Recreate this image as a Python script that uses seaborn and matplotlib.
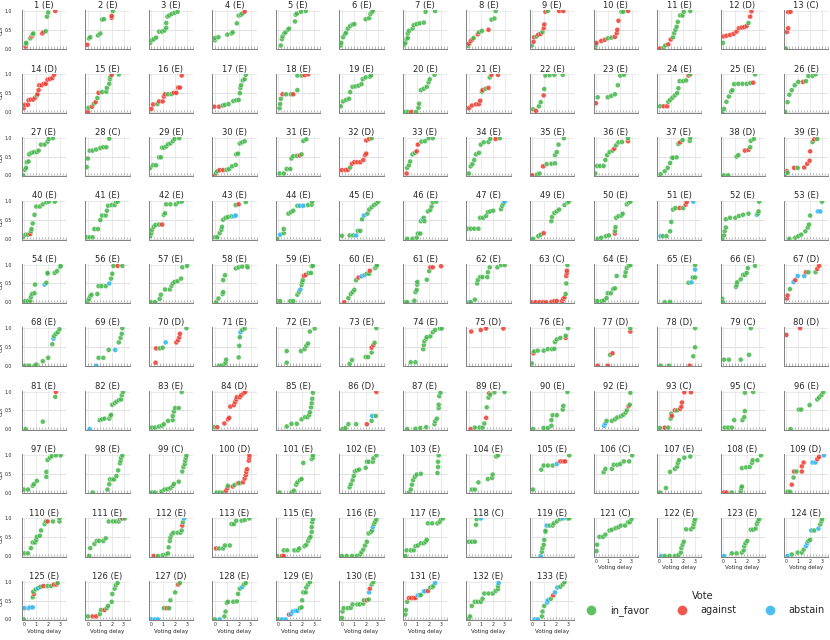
import pandas as pd
import matplotlib.pyplot as plt
import seaborn as sns
from matplotlib.ticker import MultipleLocator

# proposal panels, in grid order
titles = [
    "1 (E)", "2 (E)", "3 (E)", "4 (E)", "5 (E)", "6 (E)", "7 (E)", "8 (E)", "9 (E)", "10 (E)", "11 (E)", "12 (D)", "13 (C)",
    "14 (D)", "15 (E)", "16 (E)", "17 (E)", "18 (E)", "19 (E)", "20 (E)", "21 (E)", "22 (E)", "23 (E)", "24 (E)", "25 (E)", "26 (E)",
    "27 (E)", "28 (C)", "29 (E)", "30 (E)", "31 (E)", "32 (D)", "33 (E)", "34 (E)", "35 (E)", "36 (E)", "37 (E)", "38 (D)", "39 (E)",
    "40 (E)", "41 (E)", "42 (E)", "43 (E)", "44 (E)", "45 (E)", "46 (E)", "47 (E)", "49 (E)", "50 (E)", "51 (E)", "52 (E)", "53 (E)",
    "54 (E)", "56 (E)", "57 (E)", "58 (E)", "59 (E)", "60 (E)", "61 (E)", "62 (E)", "63 (C)", "64 (E)", "65 (E)", "66 (E)", "67 (D)",
    "68 (E)", "69 (E)", "70 (D)", "71 (E)", "72 (E)", "73 (E)", "74 (E)", "75 (D)", "76 (E)", "77 (D)", "78 (D)", "79 (C)", "80 (D)",
    "81 (E)", "82 (E)", "83 (E)", "84 (D)", "85 (E)", "86 (D)", "87 (E)", "89 (E)", "90 (E)", "92 (E)", "93 (C)", "95 (C)", "96 (E)",
    "97 (E)", "98 (E)", "99 (C)", "100 (D)", "101 (E)", "102 (E)", "103 (E)", "104 (E)", "105 (E)", "106 (C)", "107 (E)", "108 (E)", "109 (D)",
    "110 (E)", "111 (E)", "112 (E)", "113 (E)", "115 (E)", "116 (E)", "117 (E)", "118 (C)", "119 (E)", "121 (C)", "122 (E)", "123 (E)", "124 (E)",
    "125 (E)", "126 (E)", "127 (D)", "128 (E)", "129 (E)", "130 (E)", "131 (E)", "132 (E)", "133 (E)",
]

# per panel: "delay,cdf,vote" triples (g = in_favor, r = against, b = abstain)
points = [
    # row 1
    "0.1,.05,r 0.15,.12,g 0.15,.15,g 0.5,.27,g 0.6,.32,r 0.7,.35,r 0.7,.38,g 0.75,.4,g 1.5,.4,r 1.6,.43,r 1.8,.46,g 1.9,.85,g 2.0,.96,g 2.6,1,r",
    "-0.05,.1,r 0.1,.27,g 0.2,.3,g 0.85,.35,g 1.05,.4,g 1.2,.77,g 1.35,.78,g 2.0,.82,r 2.0,.87,r 2.1,1,g",
    "-0.1,.15,g 0.05,.22,g 0.2,.25,g 0.4,.29,g 0.65,.45,g 0.9,.45,g 1.1,.48,g 1.25,.55,g 1.25,.68,g 1.35,.85,g 1.5,.88,g 1.7,.92,g 1.95,.95,g 2.2,.98,g",
    "0,.22,g 0,.28,g 0.3,.3,g 1.05,.37,g 1.4,.4,g 1.5,.43,g 1.85,.67,g 2.0,.88,g 2.2,.9,g 2.3,.93,g 2.5,.98,r",
    "0.2,.08,g 0.3,.25,g 0.35,.32,g 0.5,.4,g 0.6,.43,g 0.8,.5,g 0.9,.53,g 1.4,.72,g 1.45,.9,g 1.55,.93,g 1.9,.98,g 2.3,1,g",
    "-0.1,.08,g -0.05,.15,g 0.1,.3,g 0.25,.38,g 0.35,.42,g 0.5,.53,g 0.7,.6,g 0.9,.64,g 1.05,.65,g 2.0,.78,g 2.3,.81,g 2.4,.92,g 2.5,.96,g 2.6,1,g",
    "-0.1,.1,g 0,.15,g 0.1,.25,g 0.2,.28,g 0.2,.4,g 0.3,.47,g 0.6,.53,g 0.7,.62,g 0.95,.65,g 1.2,.67,g 1.55,.69,g 1.7,.98,g 2.5,1,g",
    "-0.05,.07,g 0,.13,r 0.15,.2,r 0.3,.24,r 0.4,.28,g 0.75,.38,r 0.85,.43,g 1.1,.47,g 1.65,.5,r 1.9,.77,g 2.15,.8,g 2.25,1,g",
    "-0.05,.08,g 0.1,.18,r 0.15,.3,r 0.35,.32,g 0.5,.37,r 0.7,.39,r 0.85,.44,g 0.95,.54,r 1.0,.64,r 1.1,.98,r 1.3,1,g 2.25,1,r 2.6,1,r",
    "-0.05,.03,g 0,.1,g 0.05,.15,r 0.45,.2,r 0.75,.23,r 1.0,.27,g 1.3,.29,g 1.6,.31,r 1.75,.41,r 1.8,.5,r 1.9,.74,r 2.15,.98,g 2.3,.98,g 2.7,1,r",
    "0.05,0,r 0.35,.02,g 0.5,.08,g 0.75,.11,r 0.95,.24,r 1.15,.3,g 1.25,.41,g 1.35,.5,g 1.45,.58,g 1.55,.71,g 1.75,.88,g 1.95,.88,g 2.05,.98,g 2.6,1,g",
    "0,.15,g 0.05,.32,r 0.3,.34,r 0.6,.36,r 0.9,.39,r 1.15,.45,r 1.35,.54,r 1.6,.56,r 1.8,.57,r 2.0,.6,r 2.15,.68,g 2.3,.85,r 2.4,.99,r",
    "-0.05,0,g 0.05,.44,r 0.15,.54,r 0.15,.97,r 0.35,.98,r",
    # row 2
    "-0.05,.1,r 0.05,.19,r 0.3,.19,r 0.35,.31,r 0.55,.33,r 0.75,.33,r 0.9,.38,r 1.05,.44,g 1.1,.47,r 1.2,.58,r 1.25,.71,r 1.45,.71,r 1.65,.75,r 1.8,.75,r 1.95,.86,r 2.15,.88,r 2.35,.9,r 2.5,.99,r",
    "0,0,r 0.05,.11,g 0.35,.14,r 0.5,.22,g 0.65,.26,r 0.8,.37,g 0.9,.51,r 1.2,.53,g 1.55,.54,g 1.6,.64,g 1.8,.75,g 1.85,.87,g 1.9,.94,g 2.0,.99,r 2.6,1,g",
    "0,.08,r 0.15,.2,r 0.5,.21,g 0.65,.28,r 0.95,.28,r 1.05,.41,r 1.15,.47,r 1.4,.47,g 1.7,.48,g 1.9,.51,r 2.1,.51,r 2.25,.65,r 2.4,.65,r 2.55,.97,r",
    "-0.05,.14,r 0.35,.14,r 0.65,.17,g 0.85,.19,g 1.15,.21,g 1.55,.29,g 1.8,.31,g 2.0,.32,g 2.1,.5,g 2.15,.64,g 2.2,.71,g 2.35,.84,g 2.5,.87,g 2.6,.99,g",
    "0.1,.1,g 0.15,.21,g 0.2,.35,g 0.35,.47,r 0.65,.47,g 1.05,.47,g 1.25,.47,r 1.6,.58,g 1.6,.97,g 1.95,.97,g 2.2,.98,r 2.5,1,r",
    "-0.1,.15,g 0.1,.28,g 0.35,.32,g 0.6,.35,g 0.7,.53,g 0.9,.67,g 1.15,.68,g 1.4,.7,g 1.65,.74,g 1.75,.87,g 2.0,.92,g 2.35,.94,g 2.45,.97,g",
    "-0.1,0,g 0.2,0,g 0.5,0,r 0.9,0,g 1.1,.11,g 1.15,.22,g 1.3,.58,g 1.55,.62,g 1.8,.67,g 1.95,.79,g 2.05,.87,g 2.45,.99,g",
    "0,.1,r 0.25,.17,r 0.6,.2,r 0.85,.21,r 0.95,.3,r 1.1,.54,g 1.15,.58,r 1.4,.62,g 1.65,.64,r 1.75,.92,g 1.9,.99,r 2.45,.99,r",
    "0.05,.07,g 0.3,.03,r 0.55,.15,g 0.7,.26,g 0.95,.44,r 1.0,.61,g 1.1,.97,g 1.45,.98,g 1.85,.99,g 2.55,.99,g",
    "0,.23,r 0.15,.39,g 1.0,.39,g 1.3,.43,g 1.6,.47,g 1.85,.71,g 2.05,.97,g 2.35,.99,g",
    "0.05,.15,g 0.35,.15,r 0.65,.15,r 0.75,.27,g 0.9,.32,g 1.1,.38,g 1.3,.44,g 1.5,.5,g 1.6,.63,g 1.7,.82,g 2.0,.82,g 2.25,.84,g 2.45,.97,r 2.6,1,g",
    "-0.05,0,g 0.1,.08,g 0.3,.27,g 0.5,.41,g 0.7,.54,g 0.8,.58,g 0.95,.74,g 1.3,.75,g 1.65,.75,g 2.0,.75,g 2.3,.77,g 2.55,.78,r 2.7,1,g",
    "-0.1,0,g 0.1,.26,g 0.25,.46,g 0.45,.58,g 0.7,.71,g 1.0,.8,g 1.4,.8,r 1.65,.82,g 1.85,.96,g 2.2,.96,g 2.45,1,g",
    # row 3
    "-0.1,0,g 0.05,.15,g 0.15,.2,g 0.2,.35,g 0.35,.37,g 0.4,.56,g 0.6,.6,g 0.8,.62,g 1.05,.62,g 1.2,.66,g 1.4,.82,g 1.7,.82,g 1.95,.9,g 2.05,.97,g 2.4,.99,g",
    "-0.1,.22,g 0,.45,g 0.15,.66,g 0.4,.66,g 0.7,.69,g 1.05,.73,g 1.3,.75,g 1.55,.75,g 1.8,.98,g",
    "-0.1,.2,g 0.15,.27,g 0.4,.27,g 0.65,.48,g 0.8,.48,g 0.9,.74,g 1.05,.74,g 1.25,.77,g 1.4,.83,g 1.6,.85,g 1.8,.91,g 1.95,.97,g 2.35,.99,g",
    "0,0,r 0.1,.07,g 0.2,.11,g 0.4,.14,r 0.7,.14,r 1.0,.15,g 1.2,.17,g 1.45,.24,g 1.75,.28,g 1.8,.56,g 1.95,.58,g 2.1,.85,g 2.3,.88,g 2.5,.91,g",
    "0.1,.05,g 0.45,.05,g 0.7,.17,g 1.0,.17,g 1.1,.45,g 1.25,.51,g 1.55,.52,g 1.8,.53,r 1.95,.56,g 2.1,.92,g 2.35,.96,g",
    "0,.14,r 0.3,.14,r 0.5,.15,r 0.7,.21,g 0.85,.31,r 1.05,.35,r 1.3,.35,r 1.55,.35,r 1.8,.41,r 1.95,.54,r 2.05,.58,r 2.05,.93,r 2.3,.97,r 2.5,.99,g",
    "0.1,.05,r 0.15,.2,g 0.3,.27,g 0.4,.37,g 0.6,.56,g 0.8,.6,g 0.95,.64,r 1.05,.82,r 1.35,.9,g 1.65,.91,g 1.95,.99,g 2.3,.99,g",
    "0,.05,g 0.15,.24,g 0.3,.3,g 0.45,.41,g 0.6,.56,g 0.85,.6,g 1.0,.82,g 1.25,.88,g 1.65,.89,g 1.8,.97,g 2.25,.97,r 2.6,.99,g",
    "0,0,r 0.4,.02,g 0.6,.05,g 0.9,.24,r 1.2,.3,g 1.6,.31,g 1.9,.32,g 1.9,.54,g 2.05,.62,g 2.2,.82,g 2.65,.99,g",
    "-0.05,.05,g 0.1,.25,g 0.35,.25,g 0.65,.25,g 0.8,.41,g 0.95,.54,g 1.15,.62,g 1.4,.66,g 1.55,.71,r 1.7,.8,g 1.9,.88,g 2.2,.89,g 2.7,.91,r 2.7,.99,g",
    "0.1,.03,g 0.45,.11,g 0.7,.2,g 0.9,.33,g 1.05,.47,g 1.15,.47,g 1.45,.48,g 1.6,.84,g 1.75,.88,r 1.95,.94,g 2.55,.92,g 2.6,1,g",
    "0.1,0,g 0.45,0,g 1.15,.5,g 1.3,.54,g 1.85,.66,r 2.15,.68,r 2.3,.75,g 2.35,.92,g 2.6,.97,g",
    "-0.1,0,g 0.05,.11,r 0.1,.07,g 0.65,.2,r 0.95,.2,g 1.5,.21,r 1.75,.31,r 1.95,.39,r 2.0,.64,r 2.2,.89,g 2.35,.96,r 2.6,.97,g",
    # row 4
    "-0.1,.05,g 0.1,.11,g 0.3,.11,g 0.5,.13,r 0.55,.2,g 0.6,.26,g 0.7,.41,g 0.85,.64,g 1.0,.86,g 1.3,.86,g 1.55,.92,g 1.85,.97,g 2.05,.99,g 2.55,.99,g",
    "-0.1,.04,g 0.15,.04,g 0.4,.04,g 0.55,.26,g 0.85,.26,g 1.05,.5,g 1.2,.62,g 1.5,.62,g 1.6,.75,g 1.7,.88,g 2.0,.9,g 2.25,.9,g 2.35,.99,g 2.5,.99,g",
    "-0.1,.07,g 0,.15,g 0.05,.24,g 0.2,.32,g 0.35,.37,g 0.65,.38,g 0.9,.38,r 1.05,.64,g 1.15,.68,g 1.25,.92,g 1.6,.92,g 2.05,.92,g 2.3,.98,g 2.55,.99,g",
    "0,.04,g 0.2,.04,g 0.4,.15,g 0.55,.24,g 0.6,.32,g 0.7,.51,g 0.9,.56,g 1.1,.58,g 1.4,.6,g 1.6,.6,b 1.75,.62,b 1.75,.9,g 2.0,.92,r 2.6,.98,g",
    "-0.1,0,g 0.15,.11,b 0.45,.15,g 0.45,.26,g 0.85,.67,g 1.05,.71,g 1.25,.75,g 1.6,.88,g 1.8,.88,b 2.1,.88,b 2.5,.9,g 2.8,.91,g 2.85,.99,g",
    "0,.08,g 0.65,.09,g 0.95,.09,g 1.2,.09,b 1.35,.21,g 1.55,.21,g 1.7,.52,g 1.85,.62,b 2.15,.67,g 2.3,.78,g 2.5,.84,g 2.7,.9,g 2.9,.94,g 3.05,.99,g",
    "0.15,0,g 0.6,0,g 0.95,.03,g 1.05,.14,g 1.25,.14,g 1.3,.47,g 1.45,.52,b 1.55,.56,g 1.6,.47,g 1.9,.73,g 2.1,.77,g 2.2,.86,g 2.3,.97,g 2.6,.99,g",
    "-0.1,.27,g 0.15,.27,g 0.45,.27,g 0.8,.27,g 0.95,.56,g 1.2,.56,g 1.45,.61,g 1.6,.71,g 1.8,.73,g 2.05,.75,g 2.7,.79,g 2.8,.88,g 2.9,.94,g 3.0,.99,b",
    "0.05,0,g 0.5,.07,g 0.7,.11,g 0.95,.15,r 1.6,.47,g 1.65,.58,g 1.85,.69,g 2.05,.73,g 2.25,.78,g 2.7,.9,g 2.95,.97,g 3.05,.99,g",
    "0.15,0,g 0.45,.03,g 0.85,.07,g 1.1,.09,g 1.6,.14,r 1.6,.21,g 1.65,.31,g 1.7,.56,g 1.9,.6,g 2.15,.62,g 2.25,.67,g 2.6,.92,g 2.75,.97,g 2.9,.99,g",
    "0.1,.07,b 0.3,.07,g 0.6,.07,g 0.9,.2,g 1.0,.45,g 1.15,.78,g 1.35,.82,g 1.7,.82,r 2.0,.82,g 2.2,.91,r 2.3,.98,r 2.85,.99,b",
    "-0.05,0,g 0.1,.09,g 0.15,.2,g 0.25,.3,g 0.25,.52,g 0.6,.56,g 1.05,.56,g 1.35,.61,g 1.7,.64,g 2.15,.67,g 2.85,.64,b 2.95,.67,g 3.0,.73,g 3.05,.99,g",
    "0.25,0,g 0.75,.03,g 1.0,.07,g 1.25,.11,g 1.6,.2,g 1.8,.3,g 1.9,.38,g 2.0,.62,g 2.65,.73,b 2.85,.73,b 3.0,.99,g",
    # row 5
    "0.05,.03,g 0.3,.03,g 0.5,.04,g 0.55,.14,g 0.65,.22,g 0.85,.24,g 0.9,.47,g 1.7,.47,b 1.85,.52,g 1.95,.76,g 1.95,.78,g 2.55,.78,g 2.75,.83,g 3.0,.94,g 3.05,.97,g",
    "0,.03,g 0.1,.09,g 0.2,.16,g 0.3,.2,g 0.8,.22,g 0.9,.43,g 1.15,.43,g 1.5,.43,g 1.8,.5,b 1.95,.63,g 2.05,.76,g 2.15,.97,g 2.5,.97,r 2.9,.97,g",
    "0,0,g 0.3,0,g 0.7,.09,g 0.8,.2,g 1.15,.34,g 1.55,.34,g 1.7,.44,g 1.8,.5,g 1.95,.54,g 2.2,.56,g 2.5,.63,g 2.6,.93,g 3.0,.97,g",
    "0.1,0,g 0.3,.1,g 0.65,.22,g 0.7,.27,g 0.7,.59,g 0.85,.72,g 1.75,.9,g 2.0,.93,g 2.3,.95,g 2.7,.97,g 2.75,.93,g",
    "-0.1,.03,g 0.15,.03,g 1.0,.03,g 1.25,.03,g 1.6,.2,g 1.75,.28,g 1.85,.34,b 1.95,.46,g 2.0,.53,g 2.05,.59,g 2.15,.7,r 2.3,.73,r 2.55,.78,g 2.75,.78,g 2.8,.96,g 2.9,.97,g",
    "0.2,0,r 0.55,.11,g 0.75,.22,g 0.9,.27,g 1.05,.33,g 1.2,.59,g 1.4,.66,r 1.65,.69,b 1.9,.72,b 2.1,.76,g 2.3,.76,g 2.35,.84,r 2.8,.91,g 2.9,.95,g 2.95,.99,g",
    "0,0,g 0.15,0,g 0.75,.04,g 0.85,.27,g 0.95,.33,g 1.0,.47,g 1.0,.54,g 1.8,.6,g 2.0,.83,g 2.1,.93,r 2.3,.93,r 3.0,.96,r",
    "0,0,b 0.15,0,g 0.5,.07,g 0.7,.5,g 0.75,.59,g 0.95,.67,g 1.15,.67,g 1.55,.67,g 1.6,.8,g 1.75,.93,g 2.4,.93,g 2.7,.99,g 3.0,.99,g",
    "-0.1,0,r 0.25,0,r 0.6,0,r 0.9,0,r 1.15,0,r 1.6,.01,r 1.85,.03,r 2.05,.03,r 2.5,.03,r 2.6,.09,r 2.7,.13,r 2.8,.22,g 2.85,.5,g 2.85,.7,r 2.9,.78,r 2.9,.84,r 2.95,.99,g",
    "-0.05,.03,g 0.15,.03,g 0.5,.03,g 0.7,.05,g 0.9,.11,g 1.0,.24,g 1.25,.24,g 1.45,.35,g 1.6,.37,g 1.75,.7,g 2.45,.7,g 2.5,.8,g 2.6,.91,g 2.75,.97,g 2.9,.99,g",
    "0.45,0,g 0.9,.01,g 2.45,.52,g 2.7,.53,b 2.8,.66,g 3.0,.66,g 3.0,.87,b 3.0,.99,g",
    "-0.05,.09,g 0,0,g 1.1,.41,g 1.15,.46,g 1.2,.53,g 1.5,.61,g 1.7,.73,g 1.85,.73,g 2.0,.78,g 2.1,.91,g 2.7,.97,g",
    "0.05,.1,r 0.1,.18,r 0.3,.35,g 0.6,.54,b 0.75,.59,r 0.95,.7,b 1.5,.7,b 1.65,.8,r 1.85,.8,g 2.45,.8,g 2.6,.89,r 2.75,.97,r",
    # row 6
    "0.05,0,g 0.4,0,g 0.85,0,g 1.0,.03,g 1.55,.12,g 2.0,.21,g 2.35,.57,g 2.45,.72,b 2.5,.79,g 2.65,.85,g 2.8,.89,g 2.95,.97,g",
    "0.7,0,b 0.9,.21,g 1.3,.21,g 1.75,.42,g 2.3,.42,b 2.6,.62,g 2.75,.74,g 2.85,.85,g 2.9,1,g",
    "0.35,.08,r 0.4,.46,r 0.7,.46,g 0.95,.48,g 1.2,.62,b 2.1,.62,r 2.25,.68,r 2.35,.76,r 2.4,.85,r 2.95,1,g",
    "0.35,0,g 0.55,0,g 0.8,.03,g 0.9,.08,g 0.95,.16,g 2.0,.22,g 2.05,.53,g 2.1,.76,g 2.15,.89,b 2.3,.95,g 2.5,.99,g",
    "0.7,.08,g 0.7,.39,g 1.9,.39,g 2.2,.44,g 2.35,.53,g 2.5,.59,g 2.65,.91,g 3.05,.99,g",
    "0.65,.05,g 0.85,.15,g 2.0,.23,g 2.2,.23,g 2.5,.35,g 2.5,.48,r 2.65,.55,r 2.75,.61,g 2.9,1,g",
    "0.45,.09,g 0.85,.09,g 1.5,.44,g 1.55,.55,g 1.6,.65,g 1.75,.72,g 1.8,.76,g 2.1,.78,g 2.3,.89,g 2.5,.95,g 2.9,.99,g 3.05,.99,g",
    "0.2,.91,r 1.0,.95,r 1.45,.99,r 2.9,.99,r",
    "-0.05,.06,g 0.1,.33,r 0.15,.38,g 0.45,.4,g 0.95,.4,g 1.3,.44,g 1.65,.44,g 1.85,.45,g 1.9,.63,g 2.05,.7,g 2.35,.74,g 2.8,.74,r 2.8,.8,g 3.0,1,g",
    "0.15,0,r 1.0,0,r 1.2,.29,g 1.4,.33,r 2.9,.91,r 2.9,1,g",
    "0.1,0,g 0.8,0,g 2.55,0,r 2.85,.25,g 3.0,.49,g 3.0,1,g",
    "0.1,.16,g 0.5,.16,g 1.5,.16,g 2.2,.29,g 2.35,1,g",
    "0,.82,r 1.15,1,r",
    # row 7
    "0.1,0,g 1.55,.2,g 2.6,.86,g 2.65,.99,r",
    "0.15,0,b 1.0,.24,g 1.2,.26,g 1.4,.28,g 1.8,.28,g 1.9,.35,g 1.95,.38,g 2.05,.65,g 2.25,.69,g 2.4,.73,g 2.6,.77,g 2.8,.79,g 2.85,.9,g 2.95,.99,g",
    "0.05,.04,g 0.3,.04,g 0.65,.07,g 0.9,.09,g 1.05,.13,g 1.4,.22,g 1.8,.24,g 1.8,.35,g 1.9,.47,g 2.0,.56,g 2.3,.56,g 2.55,.99,g",
    "-0.05,.05,g 0.2,.05,r 0.8,.15,r 1.1,.26,r 1.2,.3,r 1.3,.6,r 1.6,.64,r 1.7,.72,r 1.8,.79,r 1.85,.85,r 2.1,.85,r 2.2,.9,r 2.4,.95,r 2.55,.99,r",
    "0.7,.07,g 1.1,.14,g 1.55,.14,g 1.95,.26,g 2.25,.32,g 2.45,.32,g 2.6,.38,g 2.65,.45,g 2.75,.58,g 2.8,.69,g 2.85,.81,g 2.9,.97,g",
    "0.05,0,g 0.3,.03,g 0.55,.13,g 1.2,.13,g 2.1,.13,r 2.5,.22,g 2.55,.35,b 2.85,.35,g 2.9,.99,r",
    "0.15,0,g 0.85,.01,g 1.25,.03,g 1.75,.05,g 2.45,.13,g 2.5,.21,g 2.65,.28,g 2.8,.56,g 2.8,.65,g 2.85,.88,g 2.95,.97,g",
    "0.15,0,r 0.5,.04,g 0.9,.04,g 1.15,.04,g 1.3,.15,g 1.45,.3,r 1.5,.58,g 1.65,.84,g 1.7,.95,r 1.8,.92,g 2.15,.98,g 3.0,.99,g",
    "0.05,0,g 0.95,.03,g 1.3,.03,g 1.6,.09,g 1.6,.24,g 1.7,.37,g 2.05,.37,g 2.55,.52,g 2.6,.62,g 2.95,.99,g",
    "0.7,.09,b 0.8,.15,b 0.9,.22,g 1.35,.22,g 1.6,.26,g 1.8,.31,g 2.1,.34,g 2.3,.38,g 2.5,.44,g 2.6,.5,g 2.75,.61,r 2.85,.65,g 2.9,.97,g",
    "0.05,.03,g 0.45,.04,r 0.75,.04,g 0.95,.28,g 1.0,.41,g 1.05,.35,r 1.3,.5,r 1.5,.5,g 1.75,.54,r 1.85,.6,r 1.9,.71,r 2.1,.98,r 2.65,.98,r",
    "0.15,.04,g 0.45,.04,g 0.75,.04,g 0.95,.24,g 1.65,.24,g 1.8,.32,g 1.85,.48,g 1.85,.97,g 2.55,.99,g",
    "0.35,0,g 1.05,.52,g 1.25,.52,g 1.95,.64,g 2.6,.79,g 2.75,.84,g 2.95,.91,g 3.1,.98,g",
    # row 8
    "-0.05,.08,g 0.3,.08,g 0.7,.18,g 0.8,.22,g 1.05,.31,g 1.85,.42,g 1.85,.55,g 1.95,.87,g 2.15,.93,g 2.3,.97,g 2.65,.99,g 3.05,.99,g",
    "0.4,0,g 1.65,.08,g 1.8,.22,g 1.85,.35,g 2.05,.35,g 2.2,.35,g 2.4,.44,g 2.55,.59,g 2.7,.78,g 2.75,.85,g 2.8,.93,g 2.9,.99,g",
    "0.05,0,g 0.3,0,g 0.85,.03,g 1.1,.08,g 1.35,.09,g 1.6,.12,g 1.8,.18,g 1.9,.23,g 2.3,.29,g 2.6,.56,g 2.7,.68,g 2.8,.76,g 2.85,.85,g 2.9,.93,g 2.95,.99,g",
    "0.15,0,g 0.4,0,g 0.7,0,g 0.95,.05,r 1.05,.12,r 1.1,.18,g 1.5,.16,r 1.65,.2,g 1.95,.25,r 2.05,.25,g 2.35,.27,r 2.5,.37,r 2.6,.46,r 2.65,.55,r 2.7,.62,r 2.85,.85,r 2.9,.93,r 2.9,.99,r",
    "0.1,0,g 1.1,0,g 1.3,.05,g 1.5,.21,g 1.6,.27,g 1.8,.33,g 1.95,.36,g 2.1,.79,g 2.8,.89,g 2.9,.93,g 2.9,.99,g",
    "0.65,.14,g 0.75,.22,g 0.9,.33,g 1.0,.44,g 1.1,.56,g 1.25,.59,g 1.45,.61,g 2.0,.66,g 2.1,.82,g 2.25,.82,g 2.6,.82,g 2.65,.91,g 2.9,.99,g",
    "0.3,0,g 0.45,.08,g 0.55,.21,g 0.65,.33,g 0.8,.42,g 0.95,.48,g 1.3,.5,g 2.7,.52,g 2.75,.68,g 2.75,.82,g 2.8,.99,g",
    "0.25,.08,g 0.5,.08,g 0.8,.27,g 1.6,.36,g 1.95,.39,g 2.0,.48,g 2.3,.96,g 2.45,.99,g",
    "0.05,.08,g 0.75,.61,g 0.95,.72,g 1.3,.72,g 1.7,.72,g 2.05,.76,b 2.35,.83,r 2.6,.83,r 2.75,.83,r 3.1,.99,g",
    "0.65,.54,g 0.8,.63,g 1.35,.63,g 1.5,.74,g 1.8,.74,g 2.05,.76,g 2.35,.83,g 2.8,.83,g 3.05,.99,g",
    "0.05,0,g 0.55,.12,g 0.9,.55,g 1.3,.63,g 1.5,.69,g 1.55,.79,g 1.65,.86,g 2.1,.93,g 2.6,.96,g",
    "0.1,0,r 0.3,0,r 0.75,0,g 1.5,.03,g 1.55,.12,g 1.6,.16,g 1.6,.65,g 1.95,.67,g 2.25,.68,g 2.45,.79,g 2.5,.86,g 2.9,.86,g 3.2,.99,g",
    "0.1,.02,g 0.3,.02,g 0.45,.21,r 0.6,.4,g 0.65,.56,r 0.85,.56,g 1.3,.56,r 1.3,.7,r 1.45,.8,r 2.2,.8,b 2.45,.8,b 2.6,.89,r 2.75,.95,r 3.15,.99,b",
    # row 9
    "0,.07,g 0.3,.07,g 0.55,.21,g 0.7,.36,g 0.9,.36,g 1.0,.43,g 1.05,.51,g 1.3,.54,g 1.4,.68,g 1.7,.85,g 1.8,.92,g 1.95,.92,r 2.4,.92,g 2.95,.92,g 2.95,1,g",
    "0.1,0,g 0.2,.21,g 0.55,.32,g 0.75,.4,g 0.95,.4,g 1.3,.4,g 1.5,.47,g 1.75,.92,g 2.1,.92,g 2.35,.92,g 2.6,.92,g 2.7,.98,g 2.85,1,b 2.9,1,r 3.1,1,g",
    "0.2,0,r 0.55,0,g 0.95,.02,g 1.25,.04,g 1.4,.07,g 1.45,.23,g 1.55,.4,g 1.6,.49,g 1.7,.57,g 1.85,.62,g 2.2,.62,g 2.45,.62,g 2.55,.68,g 2.6,.81,r 2.65,.9,g 2.75,1,b",
    "0.1,.2,r 0.35,.2,g 0.7,.2,g 0.85,.28,g 1.25,.28,g 1.4,.85,g 1.6,.85,g 1.8,.94,g 2.25,.94,g 2.5,.96,g 2.9,1,g",
    "-0.1,0,g 0.3,0,r 0.45,0,r 0.45,.15,g 0.75,.15,g 1.35,.15,g 1.65,.15,g 1.75,.2,g 2.2,.26,g 2.35,.3,g 2.5,.4,g 2.6,.47,g 2.7,.51,g 2.8,.64,g 2.8,.77,g 2.85,.9,g 2.9,.98,g",
    "0,0,g 0.4,0,g 0.85,0,g 1.25,0,g 1.55,.04,g 1.65,.1,g 1.8,.17,g 1.95,.28,g 2.1,.38,g 2.25,.6,g 2.45,.64,g 2.55,.68,g 2.6,.77,b 2.7,.85,g 2.8,.91,g 2.9,.97,g",
    "0,0,g 0.1,.15,g 0.45,.15,g 0.7,.15,g 0.85,.26,g 1.05,.28,g 1.3,.34,g 1.55,.34,g 1.7,.38,g 1.8,.43,g 1.9,.87,g 2.25,.87,g 2.7,.87,g 2.9,.91,g 3.0,.97,g 3.15,1,g",
    "0,.38,g 0.25,.38,g 0.5,.38,g 0.6,.83,g 0.65,.98,g 1.0,1,b",
    "0.7,0,b 0.8,.11,g 0.85,.21,g 0.95,.3,g 1.0,.43,g 1.1,.64,g 1.1,.67,g 1.2,.81,b 1.45,.81,g 1.7,.81,g 1.8,.87,g 2.05,.92,g 2.3,.98,g 2.55,1,b 2.95,1,g 3.1,1,g",
    "0.05,.13,g 0.1,.3,g 0.3,.51,g 0.6,.51,g 0.8,.57,g 1.15,.68,g 1.35,.7,g 1.65,.74,g 1.9,.77,g 2.1,.81,g 2.45,.81,g 2.7,.9,g 2.85,.9,g 3.0,.98,g",
    "0.15,0,b 0.45,0,g 0.85,0,g 1.3,0,g 1.6,.02,g 1.8,.09,g 1.85,.21,g 1.95,.3,g 2.05,.38,g 2.25,.71,g 2.65,.71,g 2.85,.77,g 2.9,.85,g 2.95,.92,g 3.0,.98,g",
    "0.1,0,b 0.75,.07,g 1.15,.07,g 1.6,.09,g 1.75,.15,g 1.8,.26,g 1.9,.34,g 2.05,.4,g 2.35,.7,g 2.55,.7,g 2.75,.73,g 2.85,.85,g 2.95,.92,g 3.05,.98,g",
    "0.1,0,b 0.45,.04,g 0.95,.09,g 1.3,.09,g 1.45,.17,g 1.65,.26,b 1.75,.34,b 1.85,.4,g 2.0,.43,g 2.1,.68,b 2.35,.68,g 2.7,.73,b 2.85,.84,g 2.95,.92,g 3.0,.98,g",
    # row 10
    "-0.05,0,g 0,.3,b 0.35,.3,b 0.5,.32,b 0.7,.32,b 0.7,.59,g 0.8,.68,r 0.75,.74,g 0.95,.8,g 1.15,.83,b 1.35,.87,g 1.6,.89,r 1.95,.89,g 2.25,.89,g 2.5,.93,r 2.7,.93,r 2.8,.97,g",
    "0,.08,g 0.4,.08,r 0.7,.08,r 1.0,.14,g 1.1,.25,g 1.4,.25,r 1.6,.3,g 1.7,.36,g 2.0,.47,g 2.05,.68,g 2.25,.82,g 2.35,.91,g 2.5,.97,g",
    "0,0,b 0.3,0,b 0.55,0,b 1.05,.3,g 1.3,.3,r 1.5,.3,g 1.6,.51,g 2.0,.72,g 2.25,.93,r 2.4,.97,g",
    "0,0,g 0.4,0,b 0.8,.08,g 0.9,.21,g 1.0,.44,g 1.1,.47,g 1.55,.47,g 1.85,.48,g 1.95,.68,g 2.1,.82,g 2.3,.86,b 2.45,.93,g 2.6,.97,g",
    "0,0,g 0.3,0,b 0.6,0,b 0.9,.13,r 1.05,.14,b 1.2,.21,b 1.45,.23,b 1.6,.23,b 1.8,.3,g 1.95,.32,g 2.0,.51,g 2.1,.72,g 2.3,.72,g 2.35,.85,g 2.5,.93,g 2.65,.99,g",
    "0,.04,g 0.05,.21,g 0.15,.3,g 0.5,.3,g 0.75,.31,g 0.9,.4,g 1.3,.4,g 1.5,.4,g 1.8,.42,g 1.85,.51,g 2.1,.51,r 2.25,.53,g 2.3,.72,b 2.35,.82,r 2.5,.93,g 2.65,.99,g",
    "0,.13,g 0.05,.25,g 0.15,.47,g 0.3,.57,r 0.5,.57,r 0.7,.57,r 0.85,.57,r 1.05,.64,b 1.2,.65,b 1.3,.65,g 1.55,.75,b 1.65,.75,b 1.9,.76,r 2.1,.85,g 2.3,.86,g 2.35,.9,g 2.5,.97,b",
    "0,.02,g 0.1,.08,g 0.25,.36,g 0.5,.47,g 0.75,.47,g 1.0,.47,g 1.15,.55,g 1.3,.69,g 1.65,.69,g 2.0,.69,g 2.25,.76,g 2.45,.81,g 2.45,.89,g 2.5,.97,b",
    "0.2,0,b 0.45,0,b 0.8,.08,g 0.85,.21,g 1.0,.36,g 1.25,.45,b 1.3,.51,b 1.55,.55,g 1.75,.64,r 1.9,.72,b 2.1,.85,b 2.35,.87,g 2.55,.93,g 2.7,.99,g",
]

vote_names = {"g": "in_favor", "r": "against", "b": "abstain"}
vote_order = ["in_favor", "against", "abstain"]
palette = {"in_favor": "#43B649", "against": "#EE3B30", "abstain": "#2BB3F0"}

rows = []
for title, pts in zip(titles, points):
    for p in pts.split():
        x, y, c = p.split(",")
        rows.append({"proposal": title, "delay": float(x), "cdf": float(y), "Vote": vote_names[c]})
df = pd.DataFrame(rows)

sns.set_theme(style="whitegrid")
plt.rcParams["font.family"] = ["DejaVu Sans"]

g = sns.relplot(
    data=df, x="delay", y="cdf", hue="Vote", hue_order=vote_order, palette=palette,
    col="proposal", col_order=titles, col_wrap=13, height=0.7, aspect=1.1,
    s=13, alpha=0.85, linewidth=0.3, edgecolor="white",
    facet_kws=dict(sharex=True, sharey=True),
)

g.set_titles("{col_name}", size=6, pad=1.5)
g.set_axis_labels("Voting delay", "CDF", fontsize=4, labelpad=1)
g.set(xlim=(-0.2, 3.5), ylim=(-0.02, 1.02), xticks=[0, 1, 2, 3], yticks=[0, 0.5, 1.0])

for ax in g.axes.flat:
    ax.axhline(0.5, color="0.7", ls="--", lw=0.7, zorder=0)
    ax.grid(True, color="0.9", lw=0.6)
    ax.xaxis.set_minor_locator(MultipleLocator(0.25))
    ax.tick_params(axis="x", which="both", bottom=True, direction="in", length=2, width=0.4, color="0.5", labelsize=3.3, pad=1.5)
    ax.tick_params(axis="y", labelsize=3.3, pad=1)
    for side in ["left", "bottom"]:
        ax.spines[side].set_color("0.5")
        ax.spines[side].set_linewidth(0.7)

sns.move_legend(
    g, "center", bbox_to_anchor=(0.847, 0.057), ncol=3, frameon=False, title="Vote",
    fontsize=7, title_fontsize=7, markerscale=2.0, columnspacing=2.4, handletextpad=0.9,
)

g.figure.set_size_inches(8.3, 6.4)
g.figure.subplots_adjust(left=0.0265, right=0.9976, top=0.984, bottom=0.031, wspace=0.443, hspace=0.626)
g.figure.savefig("out.png", dpi=100)
